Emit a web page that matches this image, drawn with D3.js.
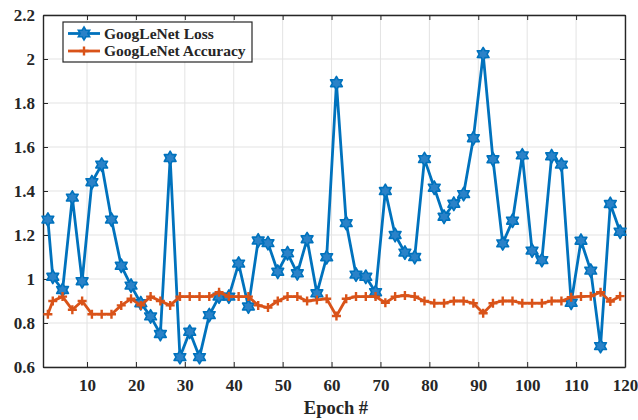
<!DOCTYPE html>
<html>
<head>
<meta charset="utf-8">
<script src="https://cdn.jsdelivr.net/npm/d3@7"></script>
<style>
  html, body { margin: 0; padding: 0; background: #fff; }
  svg { display: block; }
  text { font-family: "Liberation Serif", "Times New Roman", serif; font-weight: bold; fill: #262626; }
</style>
</head>
<body>
<svg id="chart" width="638" height="420"></svg>
<script>
// Training epochs at which the metrics were logged
const epochs = [2, 3, 5, 7, 9, 11, 13, 15, 17, 19, 21, 23, 25, 27, 29, 31, 33, 35, 37, 39,
  41, 43, 45, 47, 49, 51, 53, 55, 57, 59, 61, 63, 65, 67, 69, 71, 73, 75, 77, 79,
  81, 83, 85, 87, 89, 91, 93, 95, 97, 99, 101, 103, 105, 107, 109, 111, 113, 115, 117, 119];

const lossValues = [1.27, 1.01, 0.95, 1.37, 0.99, 1.44, 1.52, 1.27, 1.06, 0.97,
  0.89, 0.83, 0.75, 1.55, 0.645, 0.76, 0.645, 0.836, 0.92, 0.92,
  1.07, 0.875, 1.175, 1.163, 1.033, 1.117, 1.026, 1.181, 0.935, 1.099,
  1.89, 1.254, 1.02, 1.01, 0.94, 1.40, 1.20, 1.12, 1.10, 1.545,
  1.415, 1.283, 1.342, 1.386, 1.64, 2.022, 1.544, 1.162, 1.265, 1.562,
  1.129, 1.086, 1.558, 1.52, 0.892, 1.174, 1.038, 0.695, 1.341, 1.215];

const accuracyValues = [0.84, 0.90, 0.92, 0.86, 0.90, 0.84, 0.84, 0.84, 0.88, 0.91,
  0.88, 0.92, 0.90, 0.88, 0.92, 0.92, 0.92, 0.92, 0.94, 0.92,
  0.92, 0.92, 0.88, 0.87, 0.90, 0.92, 0.92, 0.90, 0.905, 0.91,
  0.832, 0.91, 0.92, 0.92, 0.92, 0.892, 0.92, 0.925, 0.92, 0.90,
  0.89, 0.89, 0.90, 0.90, 0.89, 0.844, 0.89, 0.90, 0.90, 0.89,
  0.89, 0.89, 0.90, 0.90, 0.917, 0.92, 0.922, 0.94, 0.898, 0.922];

const xTicks = [10, 20, 30, 40, 50, 60, 70, 80, 90, 100, 110, 120];
const yTicks = [0.6, 0.8, 1, 1.2, 1.4, 1.6, 1.8, 2, 2.2];
const seriesNames = ["GoogLeNet Loss", "GoogLeNet Accuracy"];
const xLabel = "Epoch #";

const lossColor = "#0072BD";
const accColor = "#D95319";

const svg = d3.select("#chart");
const margin = { left: 43, right: 13, top: 15, bottom: 53 };
const W = 638, H = 420;
const innerW = W - margin.left - margin.right;
const innerH = H - margin.top - margin.bottom;

const x = d3.scaleLinear().domain([1, 120]).range([margin.left, margin.left + innerW]);
const y = d3.scaleLinear().domain([0.6, 2.2]).range([margin.top + innerH, margin.top]);

// Grid
const grid = svg.append("g").attr("stroke", "#e3e3e3").attr("stroke-width", 1);
xTicks.forEach(t => grid.append("line")
  .attr("x1", x(t)).attr("x2", x(t)).attr("y1", y(0.6)).attr("y2", y(2.2)));
yTicks.forEach(t => grid.append("line")
  .attr("x1", x(1)).attr("x2", x(120)).attr("y1", y(t)).attr("y2", y(t)));

// Axes with inward ticks on all four sides
const fmt = d => d3.format("")(+d.toFixed(1));
const tickLen = 5;
const axBottom = svg.append("g").attr("transform", `translate(0,${y(0.6)})`)
  .call(d3.axisBottom(x).tickValues(xTicks).tickSizeInner(-tickLen).tickSizeOuter(0).tickPadding(12).tickFormat(d3.format("d")));
const axTop = svg.append("g").attr("transform", `translate(0,${y(2.2)})`)
  .call(d3.axisTop(x).tickValues(xTicks).tickSizeInner(-tickLen).tickSizeOuter(0).tickFormat(""));
const axLeft = svg.append("g").attr("transform", `translate(${x(1)},0)`)
  .call(d3.axisLeft(y).tickValues(yTicks).tickSizeInner(-tickLen).tickSizeOuter(0).tickPadding(8).tickFormat(fmt));
const axRight = svg.append("g").attr("transform", `translate(${x(120)},0)`)
  .call(d3.axisRight(y).tickValues(yTicks).tickSizeInner(-tickLen).tickSizeOuter(0).tickFormat(""));

[axBottom, axTop, axLeft, axRight].forEach(g => {
  g.selectAll("path.domain").attr("stroke", "#262626").attr("stroke-width", 1.4);
  g.selectAll(".tick line").attr("stroke", "#262626").attr("stroke-width", 1);
  g.selectAll(".tick text").attr("font-family", "Liberation Serif, serif")
    .attr("font-weight", "bold").attr("font-size", 17).attr("fill", "#262626");
});

svg.append("text")
  .attr("x", (x(1) + x(120)) / 2 + 2).attr("y", 414)
  .attr("text-anchor", "middle").attr("font-size", 18.5)
  .text(xLabel);

// Six-pointed star marker
function hexagram(r) {
  const pts = [];
  const ri = r * 0.58;
  for (let i = 0; i < 12; i++) {
    const a = -Math.PI / 2 + i * Math.PI / 6;
    const rr = i % 2 === 0 ? r : ri;
    pts.push([rr * Math.cos(a), rr * Math.sin(a)]);
  }
  return "M" + pts.map(p => p[0].toFixed(2) + "," + p[1].toFixed(2)).join("L") + "Z";
}
const plusPath = r => `M${-r},0H${r}M0,${-r}V${r}`;

const plot = svg.append("g");
const line = d3.line().x(d => x(d[0])).y(d => y(d[1]));

const lossData = epochs.map((e, i) => [e, lossValues[i]]);
const accData = epochs.map((e, i) => [e, accuracyValues[i]]);

// Loss series
plot.append("path").datum(lossData)
  .attr("d", line).attr("fill", "none").attr("stroke", lossColor)
  .attr("stroke-width", 2.8).attr("stroke-linejoin", "round");
plot.append("g").selectAll("path").data(lossData).join("path")
  .attr("transform", d => `translate(${x(d[0])},${y(d[1])})`)
  .attr("d", hexagram(6.8))
  .attr("fill", "#2a82c8").attr("stroke", lossColor).attr("stroke-width", 1.6)
  .attr("stroke-linejoin", "round");

// Accuracy series
plot.append("path").datum(accData)
  .attr("d", line).attr("fill", "none").attr("stroke", accColor)
  .attr("stroke-width", 2.8).attr("stroke-linejoin", "round");
plot.append("g").selectAll("path").data(accData).join("path")
  .attr("transform", d => `translate(${x(d[0])},${y(d[1])})`)
  .attr("d", plusPath(4.5))
  .attr("fill", "none").attr("stroke", accColor).attr("stroke-width", 2.4);

// Legend
const lg = svg.append("g").attr("transform", "translate(63,22)");
lg.append("rect").attr("width", 189).attr("height", 40)
  .attr("fill", "#fff").attr("stroke", "#262626").attr("stroke-width", 1.2);
const rows = [
  { name: seriesNames[0], color: lossColor, marker: "star", y: 11.5 },
  { name: seriesNames[1], color: accColor, marker: "plus", y: 29 }
];
rows.forEach(r => {
  lg.append("line").attr("x1", 5).attr("x2", 37).attr("y1", r.y).attr("y2", r.y)
    .attr("stroke", r.color).attr("stroke-width", 2.8);
  if (r.marker === "star") {
    lg.append("path").attr("transform", `translate(21,${r.y})`).attr("d", hexagram(6.5))
      .attr("fill", "#2a82c8").attr("stroke", r.color).attr("stroke-width", 1.6);
  } else {
    lg.append("path").attr("transform", `translate(21,${r.y})`).attr("d", plusPath(4.5))
      .attr("fill", "none").attr("stroke", r.color).attr("stroke-width", 2.4);
  }
  lg.append("text").attr("x", 41).attr("y", r.y + 5).attr("font-size", 15.5).text(r.name);
});
</script>
</body>
</html>
